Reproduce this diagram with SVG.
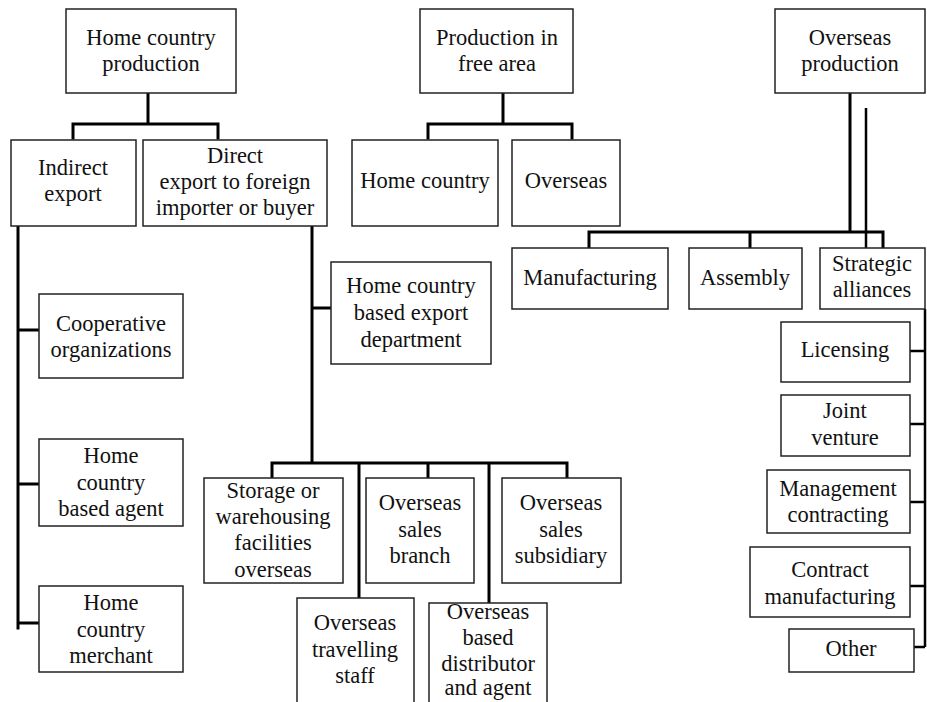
<svg xmlns="http://www.w3.org/2000/svg" width="927" height="702" viewBox="0 0 927 702">
<style>
.box{fill:#fff;stroke:#222;stroke-width:1.5}
.t{font-family:"Liberation Serif","DejaVu Serif",serif;font-size:22.5px;fill:#111;text-anchor:middle}
.c{fill:none;stroke:#000;stroke-width:3;stroke-linejoin:miter;stroke-linecap:square}
.c2{fill:none;stroke:#000;stroke-width:2.5}
</style>
<rect width="927" height="702" fill="#fff"/>
<g id="connectors">
<path class="c" d="M148 93V124M73 138V124H218V138"/>
<path class="c" d="M503 93V124M428 138V124H572V138"/>
<path class="c" d="M18 226V628M18 330H39M18 484H39M18 623H39"/>
<path class="c" d="M312 226V463M312 308H331M272 477V463H567V477M359 463V598M428 463V477M489 463V602"/>
<path class="c" d="M850 93V232M589 247V232H883V247M750 232V247"/>
<path class="c2" d="M866 108V248"/>
<path class="c2" d="M925 309V647M910 351H925M910 424H925M910 502H925M910 586H925M914 647H925"/>
</g>
<g id="home-production"><rect class="box" x="66" y="9" width="170" height="84"/><text class="t" x="151" y="45">Home country</text><text class="t" x="151" y="71">production</text></g>
<g id="indirect-export"><rect class="box" x="11" y="140" width="125" height="86"/><text class="t" x="73" y="175">Indirect</text><text class="t" x="73" y="201">export</text></g>
<g id="direct-export"><rect class="box" x="143" y="140" width="184" height="86"/><text class="t" x="235" y="163">Direct</text><text class="t" x="235" y="189">export to foreign</text><text class="t" x="235" y="215">importer or buyer</text></g>
<g id="free-area"><rect class="box" x="420" y="9" width="153" height="84"/><text class="t" x="497" y="45">Production in</text><text class="t" x="497" y="71">free area</text></g>
<g id="free-home"><rect class="box" x="352" y="140" width="146" height="86"/><text class="t" x="425" y="188">Home country</text></g>
<g id="free-overseas"><rect class="box" x="512" y="140" width="108" height="86"/><text class="t" x="566" y="188">Overseas</text></g>
<g id="overseas-production"><rect class="box" x="775" y="9" width="150" height="84"/><text class="t" x="850" y="45">Overseas</text><text class="t" x="850" y="71">production</text></g>
<g id="manufacturing"><rect class="box" x="512" y="248" width="156" height="61"/><text class="t" x="590" y="285">Manufacturing</text></g>
<g id="assembly"><rect class="box" x="689" y="248" width="113" height="61"/><text class="t" x="745" y="285">Assembly</text></g>
<g id="strategic"><rect class="box" x="820" y="248" width="105" height="61"/><text class="t" x="872" y="271">Strategic</text><text class="t" x="872" y="297">alliances</text></g>
<g id="export-dept"><rect class="box" x="331" y="262" width="160" height="102"/><text class="t" x="411" y="293">Home country</text><text class="t" x="411" y="320">based export</text><text class="t" x="411" y="347">department</text></g>
<g id="cooperative"><rect class="box" x="39" y="294" width="144" height="84"/><text class="t" x="111" y="331">Cooperative</text><text class="t" x="111" y="357">organizations</text></g>
<g id="home-agent"><rect class="box" x="39" y="439" width="144" height="87"/><text class="t" x="111" y="463">Home</text><text class="t" x="111" y="490">country</text><text class="t" x="111" y="516">based agent</text></g>
<g id="home-merchant"><rect class="box" x="39" y="586" width="144" height="86"/><text class="t" x="111" y="610">Home</text><text class="t" x="111" y="637">country</text><text class="t" x="111" y="663">merchant</text></g>
<g id="storage"><rect class="box" x="204" y="478" width="139" height="105"/><text class="t" x="273" y="498">Storage or</text><text class="t" x="273" y="524">warehousing</text><text class="t" x="273" y="550">facilities</text><text class="t" x="273" y="577">overseas</text></g>
<g id="sales-branch"><rect class="box" x="366" y="478" width="108" height="105"/><text class="t" x="420" y="510">Overseas</text><text class="t" x="420" y="537">sales</text><text class="t" x="420" y="563">branch</text></g>
<g id="sales-subsidiary"><rect class="box" x="502" y="478" width="119" height="105"/><text class="t" x="561" y="510">Overseas</text><text class="t" x="561" y="537">sales</text><text class="t" x="561" y="563">subsidiary</text></g>
<g id="travelling-staff"><rect class="box" x="297" y="598" width="117" height="110"/><text class="t" x="355" y="630">Overseas</text><text class="t" x="355" y="657">travelling</text><text class="t" x="355" y="683">staff</text></g>
<g id="distributor"><rect class="box" x="429" y="603" width="118" height="105"/><text class="t" x="488" y="619">Overseas</text><text class="t" x="488" y="645">based</text><text class="t" x="488" y="671">distributor</text><text class="t" x="488" y="695">and agent</text></g>
<g id="licensing"><rect class="box" x="781" y="322" width="129" height="60"/><text class="t" x="845" y="357">Licensing</text></g>
<g id="joint-venture"><rect class="box" x="781" y="395" width="129" height="61"/><text class="t" x="845" y="418">Joint</text><text class="t" x="845" y="445">venture</text></g>
<g id="management"><rect class="box" x="767" y="470" width="143" height="63"/><text class="t" x="838" y="496">Management</text><text class="t" x="838" y="522">contracting</text></g>
<g id="contract-mfg"><rect class="box" x="750" y="547" width="160" height="70"/><text class="t" x="830" y="577">Contract</text><text class="t" x="830" y="604">manufacturing</text></g>
<g id="other"><rect class="box" x="789" y="629" width="125" height="43"/><text class="t" x="851" y="656">Other</text></g>
</svg>
